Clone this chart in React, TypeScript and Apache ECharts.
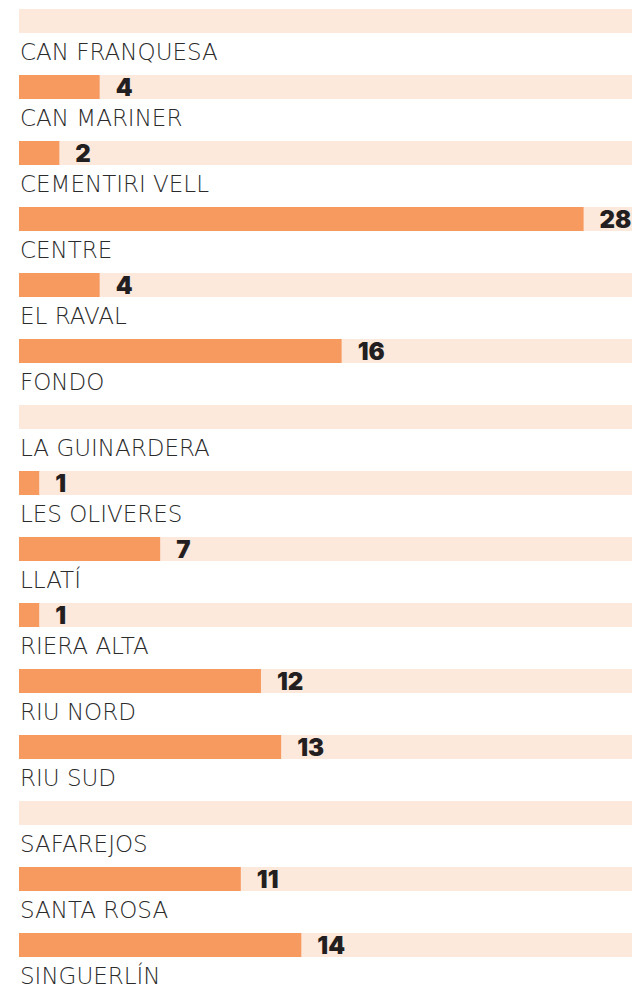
import React, { useEffect, useRef } from "react";
import * as echarts from "echarts";

const categories = [
  "CAN FRANQUESA",
  "CAN MARINER",
  "CEMENTIRI VELL",
  "CENTRE",
  "EL RAVAL",
  "FONDO",
  "LA GUINARDERA",
  "LES OLIVERES",
  "LLATÍ",
  "RIERA ALTA",
  "RIU NORD",
  "RIU SUD",
  "SAFAREJOS",
  "SANTA ROSA",
  "SINGUERLÍN",
];

const values = [0, 4, 2, 28, 4, 16, 0, 1, 7, 1, 12, 13, 0, 11, 14];

const axisMax = 30.4;

export default function App() {
  const ref = useRef<HTMLDivElement>(null);

  useEffect(() => {
    document.body.style.margin = "0";
    if (!ref.current) return;
    const chart = echarts.init(ref.current, undefined, { renderer: "svg" });
    chart.setOption({
      animation: false,
      grid: {
        left: 19,
        right: 0,
        top: -12,
        height: 990,
        containLabel: false,
        outerBoundsMode: "none",
      },
      xAxis: {
        type: "value",
        min: 0,
        max: axisMax,
        show: false,
      },
      yAxis: {
        type: "category",
        data: categories,
        inverse: true,
        axisLine: { show: false },
        axisTick: { show: false },
        splitLine: { show: false },
        axisLabel: {
          inside: true,
          margin: 1,
          align: "left",
          verticalAlign: "top",
          padding: [19, 0, 0, 0],
          fontFamily: "DejaVu Sans",
          fontWeight: 200,
          fontSize: 23,
          color: "#2b2b2b",
        },
      },
      series: [
        {
          type: "bar",
          data: values,
          barWidth: 24,
          itemStyle: { color: "#F79A60" },
          showBackground: true,
          backgroundStyle: { color: "#FDE8DC" },
          label: {
            show: true,
            position: "right",
            distance: 16,
            fontFamily: "Inter",
            fontWeight: 900,
            fontSize: 24,
            color: "#231f20",
            formatter: (p: any) => (p.value === 0 ? "" : String(p.value)),
          },
        },
      ],
    });
    return () => chart.dispose();
  }, []);

  return <div ref={ref} style={{ width: 632, height: 987 }} />;
}
